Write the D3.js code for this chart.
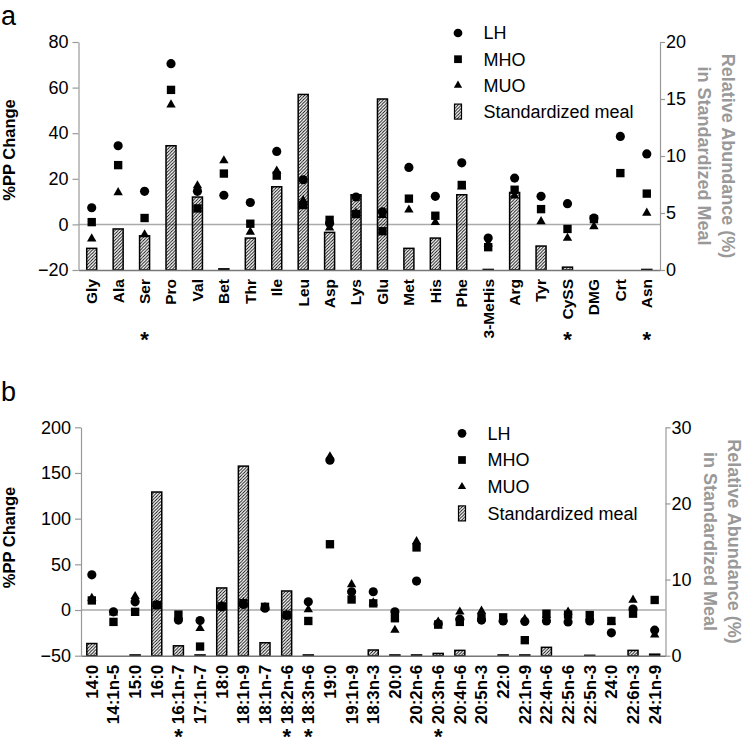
<!DOCTYPE html>
<html>
<head>
<meta charset="utf-8">
<style>
  body { margin: 0; background: #fff; }
  svg { font-family: "Liberation Sans", Arial, sans-serif; }
  .axis path, .axis line { stroke: #999; stroke-width: 1.2; }
  .axis text { font-size: 18px; fill: #000; }
  .cat text { font-weight: bold; fill: #000; }
  .ytitle { font-size: 16.5px; font-weight: bold; }
  .y2title { font-size: 18px; font-weight: bold; fill: #999; }
  .legend text { font-size: 18px; }
</style>
</head>
<body>
<script src="https://cdn.jsdelivr.net/npm/d3@7"></script>
<script>

// ---- panel a: amino acids ----
var aaCats = ["Gly", "Ala", "Ser", "Pro", "Val", "Bet", "Thr", "Ile", "Leu", "Asp", "Lys",
              "Glu", "Met", "His", "Phe", "3-MeHis", "Arg", "Tyr", "CySS", "DMG", "Crt", "Asn"];
var aaLH   = [7.3, 34.5, 14.5, 70.5, 14.5, 12.8, 9.6, 32, 19.6, 0.5, 12, 5.5, 25, 12.3, 27, -6, 20.3, 12.3, 9.1, 2.8, 38.6, 30.9];
var aaMHO  = [1, 26, 2.8, 59, 7, 22.3, 0.3, 21.4, 8.5, 2, 4.5, -3, 11.3, 3.8, 17.3, -10, 15.2, 6.7, -2, 2.3, 22.5, 13.5];
var aaMUO  = [-6.3, 14, -4.5, 52.5, 17, 28, -3.3, 23.5, 10.5, -1.5, 5, 4, 6.4, 0.9, 16.5, -8.5, 12.5, 1.3, -6, -0.9, null, 5];
var aaMeal = [1.9, 3.6, 3.0, 10.9, 6.4, 0.1, 2.8, 7.3, 15.4, 3.3, 6.6, 15.0, 1.9, 2.8, 6.6, 0.05, 6.8, 2.1, 0.25, 0, 0, 0.05];
var aaStars = ["Ser", "CySS", "Asn"];
var aaTicks  = [-20, 0, 20, 40, 60, 80];
var aaTicks2 = [0, 5, 10, 15, 20];

// ---- panel b: fatty acids ----
var faCats = ["14:0", "14:1n-5", "15:0", "16:0", "16:1n-7", "17:1n-7", "18:0", "18:1n-9", "18:1n-7",
              "18:2n-6", "18:3n-6", "19:0", "19:1n-9", "18:3n-3", "20:0", "20:2n-6", "20:3n-6", "20:4n-6",
              "20:5n-3", "22:0", "22:1n-9", "22:4n-6", "22:5n-6", "22:5n-3", "24:0", "22:6n-3", "24:1n-9"];
var faLH   = [38.5, -2, 9, 5.5, -11, -11.5, 3.5, 6, 2, -6, 9, 164, 20, 20, -2, 31.7, -15, -10, -11, -12, -12.5, -12, -13, -12, -25, 1, -22];
var faMHO  = [10.5, -13, -2, 5.5, -5, -40, 4, 7.5, 3.5, -5.5, -12, 72, 11.5, 7.3, -9, 68.5, -16, -13, -8, -8, -33, -4, -5, -5.5, -12, -4, 11];
var faMUO  = [13, -3, 15, 6, -7, -20, 5, 8, 3, -5, 0.5, 168, 28, 8, -22, 75, -13, -2, -1, -10, -10, -6, -2, -8, -13, 11, -27];
var faMeal = [1.6, 0, 0.1, 21.5, 1.3, 0.1, 8.9, 24.9, 1.7, 8.5, 0.1, 0, 0, 0.75, 0.1, 0.1, 0.3, 0.7, 0, 0.1, 0.1, 1.1, 0, 0.05, 0, 0.7, 0.2];
var faStars = ["16:1n-7", "18:2n-6", "18:3n-6", "20:3n-6"];
var faTicks  = [-50, 0, 50, 100, 150, 200];
var faTicks2 = [0, 10, 20, 30];

var groups = ["LH", "MHO", "MUO"];
var shapes = [d3.symbolCircle, d3.symbolSquare, d3.symbolTriangle];
var sizes  = [66, 70, 38];

var svg = d3.select("body").append("svg")
    .attr("width", 743)
    .attr("height", 749);

// diagonal hatch for the meal bars
svg.append("defs").append("pattern")
    .attr("id", "hatch")
    .attr("patternUnits", "userSpaceOnUse")
    .attr("width", 3.2).attr("height", 3.2)
  .append("path")
    .attr("d", "M-1,1 l2,-2 M0,3.2 l3.2,-3.2 M2.2,4.2 l2,-2")
    .attr("stroke", "#000")
    .attr("stroke-width", 0.9);

function panel(o) {
    var g = svg.append("g");

    var x = d3.scaleBand().domain(o.cats).range([o.left, o.right]);
    var y = d3.scaleLinear().domain(d3.extent(o.ticks)).range([o.bottom, o.top]);
    var y2 = d3.scaleLinear().domain(d3.extent(o.ticks2)).range([o.bottom, o.top]);
    var cx = d => x(d) + x.bandwidth() / 2;

    // zero reference line
    g.append("line")
        .attr("x1", o.left).attr("x2", o.right)
        .attr("y1", y(0)).attr("y2", y(0))
        .attr("stroke", "#aaa").attr("stroke-width", 1.5);

    // meal bars on the right scale
    var bw = 10;
    var bars = o.cats.map((c, i) => ({c: c, v: o.meal[i]})).filter(d => d.v > 0);
    g.selectAll(".bar").data(bars).enter().append("rect")
        .attr("class", "bar")
        .attr("x", d => cx(d.c) - bw / 2)
        .attr("width", bw)
        .attr("y", d => y2(d.v))
        .attr("height", d => y2(0) - y2(d.v))
        .attr("fill", "url(#hatch)")
        .attr("stroke", "#000")
        .attr("stroke-width", 1.5);

    // group markers
    groups.forEach(function(grp, k) {
        var pts = o.cats.map((c, i) => ({c: c, v: o.series[k][i]})).filter(d => d.v != null);
        g.selectAll(".m" + k).data(pts).enter().append("path")
            .attr("class", "m" + k)
            .attr("d", d3.symbol().type(shapes[k]).size(sizes[k]))
            .attr("transform", d => `translate(${cx(d.c)},${y(d.v)})`)
            .attr("fill", "#000");
    });

    // bottom axis with rotated labels
    var xa = g.append("g")
        .attr("class", "cat")
        .attr("transform", `translate(0,${o.bottom})`)
        .call(d3.axisBottom(x).tickSize(0).tickSizeOuter(0));
    xa.select(".domain").attr("stroke", "#777").attr("stroke-width", 1.5);
    xa.selectAll("text")
        .style("font-size", o.catSize + "px")
        .attr("transform", "rotate(-90)")
        .attr("text-anchor", "end")
        .attr("x", -9).attr("y", 0).attr("dy", "0.35em");

    // left axis
    g.append("g")
        .attr("class", "axis")
        .attr("transform", `translate(${o.left},0)`)
        .call(d3.axisLeft(y).tickValues(o.ticks).tickSize(6).tickSizeOuter(0).tickPadding(4));

    // right axis
    g.append("g")
        .attr("class", "axis")
        .attr("transform", `translate(${o.right},0)`)
        .call(d3.axisRight(y2).tickValues(o.ticks2).tickSize(5).tickSizeOuter(0).tickPadding(1));

    // significance stars
    g.selectAll(".star").data(o.stars).enter().append("text")
        .attr("x", d => cx(d))
        .attr("y", o.starY)
        .attr("text-anchor", "middle")
        .style("font-size", "22px")
        .style("font-weight", "bold")
        .text("*");

    // axis titles
    var mid = (o.top + o.bottom) / 2;
    g.append("text")
        .attr("class", "ytitle")
        .attr("transform", `translate(14.5,${mid + o.titleShift}) rotate(-90)`)
        .attr("text-anchor", "middle")
        .text("%PP Change");
    g.append("text")
        .attr("class", "y2title")
        .attr("transform", `translate(${o.right + 62},${mid}) rotate(90)`)
        .attr("text-anchor", "middle")
        .text("Relative Abundance (%)");
    g.append("text")
        .attr("class", "y2title")
        .attr("transform", `translate(${o.right + 38},${mid}) rotate(90)`)
        .attr("text-anchor", "middle")
        .text("in Standardized Meal");

    // panel letter
    g.append("text")
        .attr("x", 1).attr("y", o.letterY)
        .style("font-size", "27px")
        .text(o.letter);

    // legend
    var lg = g.append("g").attr("class", "legend")
        .attr("transform", `translate(${o.legX},${o.legY})`);
    var labels = groups.concat(["Standardized meal"]);
    labels.forEach(function(t, k) {
        var row = lg.append("g").attr("transform", `translate(0,${k * o.legStep})`);
        if (k < 3) {
            row.append("path")
                .attr("d", d3.symbol().type(shapes[k]).size(k == 2 ? 30 : 60))
                .attr("fill", "#000");
        } else {
            row.append("rect")
                .attr("x", -3.5).attr("y", -7.5)
                .attr("width", 7).attr("height", 15)
                .attr("fill", "url(#hatch)")
                .attr("stroke", "#000").attr("stroke-width", 1.2);
        }
        row.append("text")
            .attr("x", 25.5).attr("dy", "0.35em")
            .text(t);
    });
}

panel({
    cats: aaCats, series: [aaLH, aaMHO, aaMUO], meal: aaMeal,
    ticks: aaTicks, ticks2: aaTicks2, stars: aaStars,
    left: 78.5, right: 660, top: 42, bottom: 270,
    catSize: 15.5, starY: 347, titleShift: -6,
    letter: "a", letterY: 24.5,
    legX: 458, legY: 33, legStep: 26.2
});

panel({
    cats: faCats, series: [faLH, faMHO, faMUO], meal: faMeal,
    ticks: faTicks, ticks2: faTicks2, stars: faStars,
    left: 81, right: 665.5, top: 427.3, bottom: 655.7,
    catSize: 17, starY: 744.3, titleShift: -4,
    letter: "b", letterY: 401,
    legX: 462, legY: 433.3, legStep: 26.7
});

</script>
</body>
</html>
